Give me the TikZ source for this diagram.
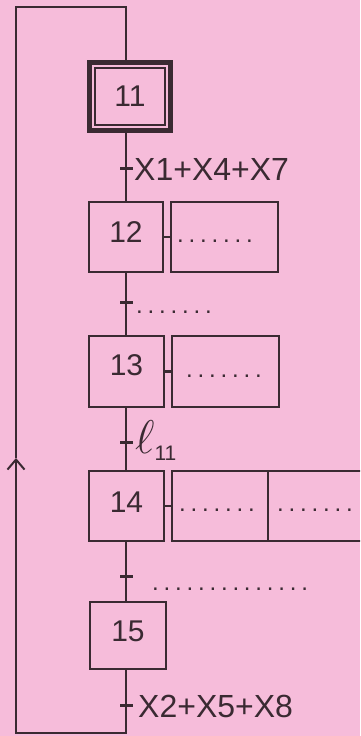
\documentclass[tikz,border=0pt]{standalone}
\usepackage{fontspec}
\setmainfont{Liberation Sans}
\usetikzlibrary{arrows.meta}
\definecolor{bg}{HTML}{F6BCDA}
\definecolor{ink}{HTML}{3A2A32}
\newcommand{\dotrow}[1]{\foreach \i in {1,...,#1}{.\hspace{4.8pt}}}
\begin{document}
\begin{tikzpicture}[x=1pt,y=-1pt,
  every node/.style={text=ink},
  stepbox/.style={draw=ink, line width=2.2pt, inner sep=0pt, font=\fontsize{30}{32}\selectfont},
  actbox/.style={draw=ink, line width=2.2pt, inner sep=0pt},
  tick/.style={fill=ink, inner sep=0pt, minimum width=13pt, minimum height=3pt},
  lbl/.style={anchor=west, inner sep=0pt, font=\fontsize{32}{34}\selectfont},
  dotsrow/.style={anchor=base west, inner sep=0pt, font=\fontsize{24}{26}\selectfont},
  wire/.style={draw=ink, line width=2.2pt}]
\fill[bg] (0,0) rectangle (360,736);
\useasboundingbox (0,0) rectangle (360,736);
\clip (0,0) rectangle (360,736);

% step 11 (initial)
\node[draw=ink, line width=4.6pt, minimum width=81.4pt, minimum height=68.4pt, inner sep=0pt] (s11o) at (130,96.5) {};
\node[stepbox, line width=1.8pt, minimum width=70.2pt, minimum height=57.2pt] (s11) at (130,96.5) {\raisebox{-6pt}{11}};

% steps
\node[stepbox, minimum width=73.8pt, minimum height=69.8pt] (s12) at (126,237) {\raisebox{10pt}{12}};
\node[actbox, minimum width=106.8pt, minimum height=69.8pt] (a12) at (224.5,237) {};
\node[stepbox, minimum width=74.8pt, minimum height=70.8pt] (s13) at (126.5,371.5) {\raisebox{12pt}{13}};
\node[actbox, minimum width=106.8pt, minimum height=70.8pt] (a13) at (225.5,371.5) {};
\node[stepbox, minimum width=74.8pt, minimum height=69.8pt] (s14) at (126.5,506) {\raisebox{7pt}{14}};
\node[actbox, minimum width=95.9pt, minimum height=69.8pt] (a14a) at (219.95,506) {};
\node[actbox, minimum width=132pt, minimum height=69.8pt] (a14b) at (334,506) {};
\node[stepbox, minimum width=75.8pt, minimum height=66.8pt] (s15) at (128,635.5) {\raisebox{9pt}{15}};

% transitions
\node[tick] (t1) at (126,168) {};
\node[tick] (t2) at (126,302) {};
\node[tick] (t3) at (126,442) {};
\node[tick] (t4) at (126,576) {};
\node[tick] (t5) at (126,705) {};

\coordinate (bl) at (16,733);
\coordinate (am) at (16,458);
\coordinate (tl) at (16,7);
\coordinate (tr) at (126,7);

% spine
\draw[wire] (s11o.south -| t1) -- (s12.north -| t1);
\draw[wire] (s12.south -| t2) -- (s13.north -| t2);
\draw[wire] (s13.south -| t3) -- (s14.north -| t3);
\draw[wire] (s14.south -| t4) -- (s15.north -| t4);
\draw[wire, -{Straight Barb[length=10pt,width=17pt,line width=2pt]}] (s15.south -| t5) -- (bl -| t5) -- (bl) -- (am);
\draw[wire] (am) -- (tl) -- (tr) -- (s11o.north -| tr);

% action links
\draw[wire] (s12.east) -- (a12.west);
\draw[wire] (s13.east) -- (a13.west);
\draw[wire] (s14.east) -- (a14a.west);

% labels
\node[lbl] (l1) at (134,169) {X1+X4+X7};
\node[lbl, anchor=west] (l3) at (135,441) {\scalebox{1.9}{$\ell$}\raisebox{-7pt}{\fontsize{21}{23}\selectfont 11}};
\node[lbl] (l5) at (138,706) {X2+X5+X8};

% dotted placeholders
\node[dotsrow] (d12) at (177,242) {\dotrow{7}};
\node[dotsrow] (dt2) at (136,313) {\dotrow{7}};
\node[dotsrow] (d13) at (186,377) {\dotrow{7}};
\node[dotsrow] (d14a) at (179,511) {\dotrow{7}};
\node[dotsrow] (d14b) at (277,511) {\dotrow{7}};
\node[dotsrow] (dt4) at (152,590) {\dotrow{14}};
\end{tikzpicture}
\end{document}
